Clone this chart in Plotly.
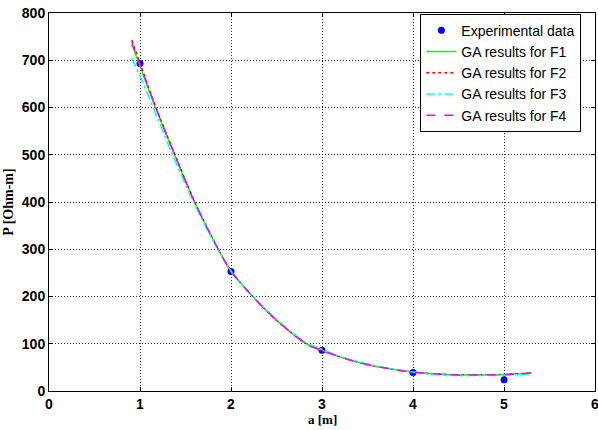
import plotly.graph_objects as go

# Experimental data
exp_a = [1, 2, 3, 4, 5]
exp_p = [693, 253, 86, 39, 24]

# GA fitted curves
curve_a = [0.91, 1.0, 1.17, 1.38, 1.6, 1.86, 2.0, 2.24, 2.5, 2.83, 3.0, 3.25, 3.5, 3.75, 4.0, 4.25, 4.5, 4.75, 5.0, 5.3]
f1_p = [733, 688, 600, 500, 400, 300, 254, 200, 150, 100, 86, 69, 56, 47, 40, 36, 34, 34, 35, 38]
f2_p = [743, 694, 603, 502, 401, 300, 254, 200, 150, 100, 86, 69, 56, 47, 40, 36, 34, 34, 35, 38]
f3_p = [704, 667, 588, 490, 395, 298, 253, 201, 152, 102, 88, 70, 57, 47, 40, 35, 33, 33, 34, 36]
f4_p = [738, 691, 602, 501, 400, 300, 254, 200, 150, 100, 86, 69, 56, 47, 40, 36, 34, 34, 35, 38]

x_ticks = [0, 1, 2, 3, 4, 5, 6]
y_ticks = [0, 100, 200, 300, 400, 500, 600, 700, 800]

fig = go.Figure()
fig.add_trace(go.Scatter(x=exp_a, y=exp_p, mode="markers", name="Experimental data",
                         marker=dict(color="#0000ff", size=7, symbol="circle")))
fig.add_trace(go.Scatter(x=curve_a, y=f1_p, mode="lines", name="GA results for F1",
                         line=dict(color="#00ff00", width=1.5, shape="spline")))
fig.add_trace(go.Scatter(x=curve_a, y=f2_p, mode="lines", name="GA results for F2",
                         line=dict(color="#ff0000", width=1.5, dash="dot", shape="spline")))
fig.add_trace(go.Scatter(x=curve_a, y=f3_p, mode="lines", name="GA results for F3",
                         line=dict(color="#00ffff", width=1.5, dash="dashdot", shape="spline")))
fig.add_trace(go.Scatter(x=curve_a, y=f4_p, mode="lines", name="GA results for F4",
                         line=dict(color="#ff00ff", width=1.5, dash="dash", shape="spline")))

axis_common = dict(showline=True, linecolor="black", linewidth=1, mirror="ticks",
                   ticks="inside", ticklen=4, tickcolor="black",
                   showgrid=True, gridcolor="#333333", griddash="1px,2px", gridwidth=1,
                   zeroline=False, ticklabeloverflow="allow", automargin=False,
                   tickfont=dict(family="Arial", size=14, color="black", weight="bold"))

fig.update_xaxes(range=[0, 6], tickvals=x_ticks, ticklabelstandoff=0, **axis_common)
fig.update_yaxes(range=[0, 800], tickvals=y_ticks,
                 title=dict(text="P [Ohm-m]", font=dict(family="Liberation Serif", size=14, color="black", weight="bold"),
                            standoff=4),
                 **axis_common)

fig.add_annotation(text="a [m]", xref="paper", yref="paper", x=0.5, y=-0.1005,
                   xanchor="center", yanchor="bottom", showarrow=False,
                   font=dict(family="Liberation Serif", size=13, color="black", weight="bold"))

fig.update_layout(
    width=598, height=430,
    margin=dict(l=49, r=3, t=13, b=39),
    paper_bgcolor="white", plot_bgcolor="white",
    showlegend=True,
    legend=dict(x=0.975, y=0.998, xanchor="right", yanchor="top",
                bgcolor="white", bordercolor="black", borderwidth=1,
                font=dict(family="Arial", size=14, color="black"),
                tracegroupgap=0, itemwidth=30),
)

fig.write_html("out.html")
